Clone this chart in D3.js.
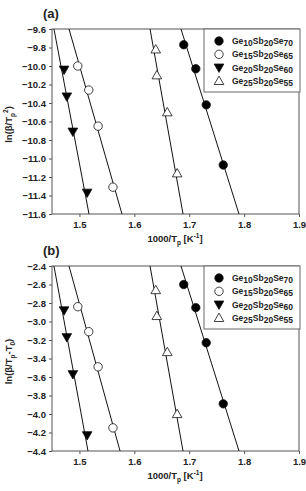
<!DOCTYPE html>
<html>
<head>
<meta charset="utf-8">
<script src="https://cdn.jsdelivr.net/npm/d3@7"></script>
<style>
  body { margin: 0; background: #fff; }
  text { font-family: "Liberation Sans", Arial, sans-serif; font-weight: bold; fill: #222; }
</style>
</head>
<body>
<div id="chart"></div>
<script>
// series names (subscript digits kept apart so they can be lowered)
var seriesNames = [
    [["Ge", "10"], ["Sb", "20"], ["Se", "70"]],
    [["Ge", "15"], ["Sb", "20"], ["Se", "65"]],
    [["Ge", "20"], ["Sb", "20"], ["Se", "60"]],
    [["Ge", "25"], ["Sb", "20"], ["Se", "55"]]
];
var symbols = ["filledCircle", "openCircle", "filledTriangle", "openTriangle"];

// 1000/Tp values, same for both panels
var xGe10 = [1.690, 1.712, 1.731, 1.762];
var xGe15 = [1.497, 1.517, 1.534, 1.561];
var xGe20 = [1.472, 1.477, 1.488, 1.514];
var xGe25 = [1.639, 1.641, 1.660, 1.678];

// panel (a): ln(beta/Tp^2)
var yaGe10 = [-9.77, -10.03, -10.42, -11.07];
var yaGe15 = [-10.00, -10.26, -10.65, -11.31];
var yaGe20 = [-10.04, -10.33, -10.71, -11.37];
var yaGe25 = [-9.82, -10.10, -10.50, -11.16];

// panel (b): ln(beta/(Tp-T0))
var ybGe10 = [-2.60, -2.85, -3.23, -3.89];
var ybGe15 = [-2.84, -3.11, -3.49, -4.15];
var ybGe20 = [-2.88, -3.17, -3.57, -4.23];
var ybGe25 = [-2.66, -2.94, -3.33, -4.00];

// fitted lines: 1000/Tp where each line meets the top and bottom of the frame
var fitTopA = [1.685, 1.481, 1.4536, 1.6286];
var fitBottomA = [1.7907, 1.5775, 1.5174, 1.6887];
var fitTopB = [1.685, 1.481, 1.4536, 1.6286];
var fitBottomB = [1.7907, 1.574, 1.5156, 1.6887];

var xTicks = [1.5, 1.6, 1.7, 1.8, 1.9];
var yaTicks = [-9.6, -9.8, -10.0, -10.2, -10.4, -10.6, -10.8, -11.0, -11.2, -11.4, -11.6];
var ybTicks = [-2.4, -2.6, -2.8, -3.0, -3.2, -3.4, -3.6, -3.8, -4.0, -4.2, -4.4];

var width = 306, height = 491;
var svg = d3.select("#chart").append("svg")
    .attr("width", width)
    .attr("height", height);

var x = d3.scaleLinear().domain([1.45, 1.9]).range([52, 299]);

function drawPanel(cfg) {
    var y = d3.scaleLinear().domain(cfg.yDomain).range([cfg.top, cfg.bottom]);
    var g = svg.append("g");

    // axes
    var xAxis = d3.axisBottom(x).tickValues(xTicks).tickSize(3).tickPadding(4)
        .tickFormat(d3.format(".1f"));
    var yAxis = d3.axisLeft(y).tickValues(cfg.yTicks).tickSize(3).tickPadding(3)
        .tickFormat(d3.format(".1f"));

    var gx = g.append("g").attr("transform", "translate(0," + cfg.bottom + ")").call(xAxis);
    var gy = g.append("g").attr("transform", "translate(" + x.range()[0] + ",0)").call(yAxis);
    [gx, gy].forEach(function(a) {
        a.select(".domain").remove();
        a.selectAll("line").attr("stroke", "#555");
        a.selectAll("text").style("font-size", "9.5px").attr("fill", "#222");
    });

    // frame
    g.append("rect")
        .attr("x", x.range()[0]).attr("y", cfg.top)
        .attr("width", x.range()[1] - x.range()[0])
        .attr("height", cfg.bottom - cfg.top)
        .attr("fill", "none").attr("stroke", "#555").attr("stroke-width", 1);

    // fitted lines
    var lines = g.append("g");
    cfg.fitTop.forEach(function(xt, k) {
        lines.append("line")
            .attr("x1", x(xt)).attr("y1", y(cfg.yDomain[0]))
            .attr("x2", x(cfg.fitBottom[k])).attr("y2", y(cfg.yDomain[1]))
            .attr("stroke", "#111").attr("stroke-width", 1);
    });

    // points
    cfg.series.forEach(function(s, k) {
        var pts = g.append("g");
        s.xs.forEach(function(xv, i) {
            drawSymbol(pts, symbols[k], x(xv), y(s.ys[i]));
        });
    });

    // panel label
    g.append("text").attr("x", 43).attr("y", cfg.top - 11)
        .style("font-size", "13px").text("(" + cfg.label + ")");

    // x title
    var xt = g.append("text").attr("x", 175).attr("y", cfg.bottom + 28)
        .attr("text-anchor", "middle").style("font-size", "9.5px");
    xt.append("tspan").text("1000/T");
    xt.append("tspan").attr("dy", 2.5).style("font-size", "6.5px").text("p");
    xt.append("tspan").attr("dy", -2.5).text(" [K");
    xt.append("tspan").attr("dy", -4).style("font-size", "6.5px").text("-1");
    xt.append("tspan").attr("dy", 4).text("]");

    // y title
    var cy = (cfg.top + cfg.bottom) / 2 + 3;
    var yt = g.append("text").attr("transform", "translate(12," + cy + ") rotate(-90)")
        .attr("text-anchor", "middle").style("font-size", "9.5px");
    cfg.yTitle(yt);

    // legend
    var lg = g.append("g");
    lg.append("rect").attr("x", 204).attr("y", cfg.top)
        .attr("width", 96).attr("height", 63)
        .attr("fill", "#fff").attr("stroke", "#666").attr("stroke-width", 1);
    seriesNames.forEach(function(name, k) {
        var ly = cfg.top + 12 + k * 13.3;
        drawSymbol(lg, symbols[k], 219, ly);
        var t = lg.append("text").attr("x", 232).attr("y", ly + 3)
            .style("font-size", "8.5px").attr("fill", "#333");
        name.forEach(function(part, i) {
            t.append("tspan").attr("dy", i === 0 ? 0 : -2).text(part[0]);
            t.append("tspan").attr("dy", 2).text(part[1]);
        });
    });
}

function drawSymbol(g, kind, cx, cy) {
    if (kind === "filledCircle" || kind === "openCircle") {
        g.append("circle").attr("cx", cx).attr("cy", cy).attr("r", 4.2)
            .attr("fill", kind === "filledCircle" ? "#000" : "#fff")
            .attr("stroke", "#111").attr("stroke-width", 0.8);
    } else {
        var down = kind === "filledTriangle";
        var s = 4.8;
        var pts = down
            ? [[cx - s, cy - s * 0.75], [cx + s, cy - s * 0.75], [cx, cy + s]]
            : [[cx - s, cy + s * 0.75], [cx + s, cy + s * 0.75], [cx, cy - s]];
        g.append("polygon").attr("points", pts.map(p => p.join(",")).join(" "))
            .attr("fill", down ? "#000" : "#fff")
            .attr("stroke", "#111").attr("stroke-width", 0.8);
    }
}

drawPanel({
    label: "a", top: 29, bottom: 214, yDomain: [-9.6, -11.6], yTicks: yaTicks,
    fitTop: fitTopA, fitBottom: fitBottomA,
    series: [
        { xs: xGe10, ys: yaGe10 }, { xs: xGe15, ys: yaGe15 },
        { xs: xGe20, ys: yaGe20 }, { xs: xGe25, ys: yaGe25 }
    ],
    yTitle: function(t) {
        t.append("tspan").text("ln(\u03B2/T");
        t.append("tspan").attr("dy", 2.5).style("font-size", "6.5px").text("p");
        t.append("tspan").attr("dy", -6.5).style("font-size", "6.5px").text("2");
        t.append("tspan").attr("dy", 4).text(")");
    }
});

drawPanel({
    label: "b", top: 266, bottom: 451, yDomain: [-2.4, -4.4], yTicks: ybTicks,
    fitTop: fitTopB, fitBottom: fitBottomB,
    series: [
        { xs: xGe10, ys: ybGe10 }, { xs: xGe15, ys: ybGe15 },
        { xs: xGe20, ys: ybGe20 }, { xs: xGe25, ys: ybGe25 }
    ],
    yTitle: function(t) {
        t.append("tspan").text("ln(\u03B2/T");
        t.append("tspan").attr("dy", 2.5).style("font-size", "6.5px").text("p");
        t.append("tspan").attr("dy", -2.5).text("-T");
        t.append("tspan").attr("dy", 2.5).style("font-size", "6.5px").text("0");
        t.append("tspan").attr("dy", -2.5).text(")");
    }
});
</script>
</body>
</html>
